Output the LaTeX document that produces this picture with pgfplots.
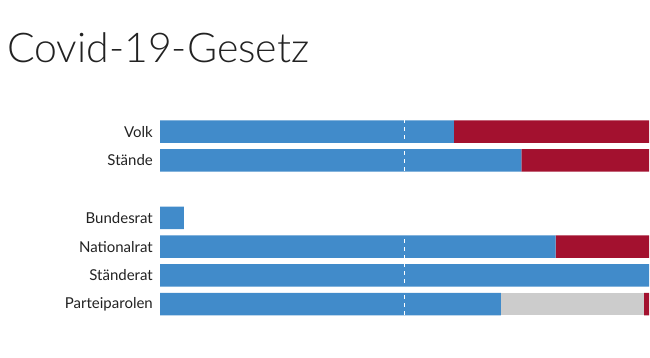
\documentclass[border=0pt]{standalone}
\usepackage{pgfplots}
\pgfplotsset{compat=1.18}
\usepackage{fontspec}
\setmainfont{Lato}
\newfontfamily\titlefont{Lato}[UprightFont=* Light]
\definecolor{cblue}{HTML}{418BCA}
\definecolor{cred}{HTML}{A3112F}
\definecolor{cgrey}{HTML}{CCCCCC}
\definecolor{ctext}{HTML}{222222}
\begin{document}
\begin{tikzpicture}
\useasboundingbox (0,0) rectangle (650pt,-357pt);
\node[anchor=base west, inner sep=0pt, font=\titlefont\fontsize{41}{46}\selectfont, text=ctext] at (7pt,-62pt) {Covid-19-Gesetz};
\begin{axis}[
  at={(160pt,-318.4pt)}, anchor=south west,
  scale only axis, width=489pt, height=201.25pt,
  xmin=0, xmax=100, ymin=-0.5, ymax=6.5,
  y dir=reverse,
  xbar stacked, bar width=22.5pt,
  axis line style={draw=none}, tick style={draw=none},
  xtick=\empty,
  ytick={0,1,3,4,5,6},
  yticklabels={Volk,Stände,Bundesrat,Nationalrat,Ständerat,Parteiparolen},
  yticklabel style={font=\fontsize{15}{17}\selectfont, text=ctext, inner sep=0pt, xshift=-7pt},
  clip=false,
]
\addplot[fill=cblue, draw=none] coordinates {(60.1,0) (73.9,1) (4.9,3) (80.9,4) (100,5) (69.7,6)};
\addplot[fill=cgrey, draw=none] coordinates {(0,0) (0,1) (0,3) (0,4) (0,5) (29.3,6)};
\addplot[fill=cred, draw=none] coordinates {(39.9,0) (26.1,1) (0,3) (19.1,4) (0,5) (1.0,6)};
\coordinate (dtop) at (axis cs:50,-0.42);
\coordinate (dbot) at (axis cs:50,6.42);
\end{axis}
\draw[white, line width=1pt, dash pattern=on 4pt off 4pt] (dtop) -- (dbot);
\end{tikzpicture}
\end{document}
